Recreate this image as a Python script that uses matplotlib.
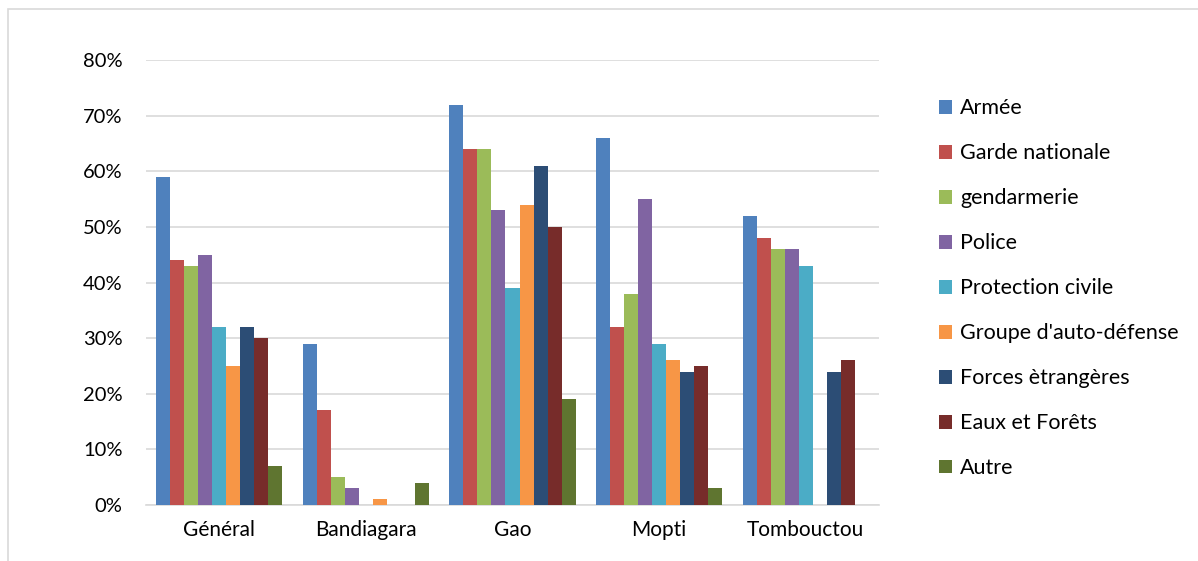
import numpy as np
import matplotlib.pyplot as plt
from matplotlib.patches import Rectangle

plt.rcParams['font.family'] = ['Lato', 'DejaVu Sans']

regions = ['Général', 'Bandiagara', 'Gao', 'Mopti', 'Tombouctou']
series = ['Armée', 'Garde nationale', 'gendarmerie', 'Police', 'Protection civile',
          "Groupe d'auto-défense", 'Forces ètrangères', 'Eaux et Forêts', 'Autre']

armee = [59, 29, 72, 66, 52]
garde = [44, 17, 64, 32, 48]
gendarmerie = [43, 5, 64, 38, 46]
police = [45, 3, 53, 55, 46]
protection = [32, 0, 39, 29, 43]
autodefense = [25, 1, 54, 26, 0]
etrangeres = [32, 0, 61, 24, 24]
eaux_forets = [30, 0, 50, 25, 26]
autre = [7, 4, 19, 3, 0]

values = [armee, garde, gendarmerie, police, protection,
          autodefense, etrangeres, eaux_forets, autre]
colors = ['#4F81BD', '#C0504D', '#9BBB59', '#8064A2', '#4BACC6',
          '#F79646', '#2C4D75', '#772C2A', '#5F7530']

W, H = 1198, 561
fig = plt.figure(figsize=(W / 100, H / 100), dpi=100)
ax = fig.add_axes([146 / W, 1 - 505 / H, (879 - 146) / W, (505 - 60) / H])

# chart border
fig.patches.append(Rectangle((8 / W, -0.1), 1.2, 1 - 9 / H + 0.1,
                             transform=fig.transFigure, fill=False,
                             edgecolor='#D9D9D9', linewidth=1.2))

x = np.arange(len(regions))
n = len(series)
w = 0.86 / n
for i in range(n):
    ax.bar(x - 0.86 / 2 + w * (i + 0.5), np.array(values[i]) / 100, w,
           color=colors[i], label=series[i], zorder=3)

ax.set_xlim(-0.5, len(regions) - 0.5)
ax.set_ylim(0, 0.8)
ax.set_yticks(np.arange(0, 0.81, 0.1))
ax.set_yticklabels([f'{int(round(v * 100))}%' for v in np.arange(0, 0.81, 0.1)])
ax.set_xticks(x)
ax.set_xticklabels(regions)
ax.tick_params(axis='both', length=0, labelsize=15, colors='#000000')
ax.tick_params(axis='y', pad=17)
ax.tick_params(axis='x', pad=11)
for lbl in ax.get_yticklabels():
    lbl.set_fontsize(14.5)
ax.grid(axis='y', color='#D9D9D9', linewidth=1.2, zorder=0)
for s in ['top', 'right', 'left']:
    ax.spines[s].set_visible(False)
ax.spines['bottom'].set_color('#D9D9D9')
ax.spines['bottom'].set_linewidth(1.2)

ax.legend(loc='upper left', bbox_to_anchor=(933 / W, 1 - 92 / H),
          bbox_transform=fig.transFigure, frameon=False,
          fontsize=15.5, labelspacing=1.16, handlelength=0.6, handleheight=0.6,
          handletextpad=0.35, borderaxespad=0, borderpad=0.3)

fig.savefig('out.png', dpi=100)
